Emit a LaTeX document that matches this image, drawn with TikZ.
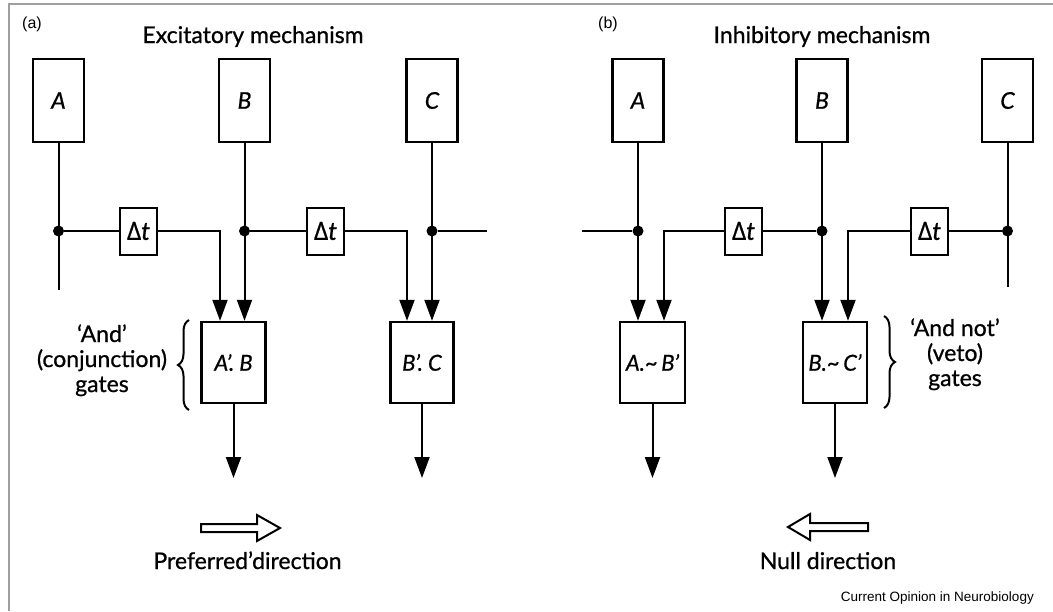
\documentclass[tikz,border=0pt]{standalone}
\usepackage{fontspec}
\setmainfont{Lato}[FakeBold=0.8]
\newfontfamily\credfont{Liberation Sans}
\newfontfamily\grkfont{Open Sans}[FakeBold=0.8]
\usetikzlibrary{arrows.meta,decorations.pathreplacing}
\begin{document}
\begin{tikzpicture}[x=1pt,y=-1pt,
  cell/.style={draw,line width=2.4pt,minimum width=51pt,minimum height=83pt,inner sep=0pt,font=\fontsize{23}{23}\selectfont\itshape},
  dly/.style={draw,line width=2pt,minimum width=37pt,minimum height=47pt,inner sep=0pt,font=\fontsize{25}{25}\selectfont},
  gate/.style={draw,line width=2.4pt,minimum width=64pt,minimum height=81pt,inner sep=0pt,font=\fontsize{22}{22}\selectfont\itshape},
  wire/.style={line width=2pt},
  arr/.style={wire,-{Triangle[length=21pt,width=15pt]}},
  jdot/.style={circle,fill,inner sep=0pt,minimum size=11pt},
  lbl/.style={font=\fontsize{23}{23}\selectfont,inner sep=0pt,anchor=base},
  tag/.style={font=\credfont\fontsize{16}{16}\selectfont,inner sep=0pt},
  hollow/.style={draw,line width=2pt,fill=white,line join=miter},
  brc/.style={decorate,decoration={brace,amplitude=11pt},line width=2pt}]
\useasboundingbox (0,0) rectangle (1053,611);
% frame
\draw[gray!75,line width=1.5pt] (9,611) -- (9,4) -- (1053,4);

% ---------------- panel (a)
\node[tag] (ta) at (32,24) {(a)};
\node[lbl] (tia) at (253,43) {Excitatory mechanism};
\node[cell] (A) at (58.5,100.5) {A};
\node[cell] (B) at (244.5,100.5) {B};
\node[cell] (C) at (432,100.5) {C};
\node[jdot] (dA) at (58.5,231) {};
\node[jdot] (dB) at (244.5,231) {};
\node[jdot] (dC) at (432,231) {};
\node[dly] (D1) at (138.5,231) {{\grkfont Δ}\textit{t}};
\node[dly] (D2) at (325.5,231) {{\grkfont Δ}\textit{t}};
\node[gate] (G1) at (233.5,362.5) {A’. B};
\node[gate,minimum width=63pt] (G2) at (422,362.5) {B’. C};
\coordinate (aEnd) at (58.5,290);
\coordinate (c1) at (220,231);
\coordinate (c2) at (407,231);
\coordinate (cEnd) at (487,231);
\coordinate (o1) at (233.5,478);
\coordinate (o2) at (422,478);

\draw[wire] (A.south) -- (aEnd);
\draw[wire] (dA) -- (D1.west);
\draw[arr] (D1.east) -- (c1) -- (c1 |- G1.north);
\draw[arr] (B.south) -- (B.south |- G1.north);
\draw[wire] (dB) -- (D2.west);
\draw[arr] (D2.east) -- (c2) -- (c2 |- G2.north);
\draw[arr] (C.south) -- (C.south |- G2.north);
\draw[wire] (dC) -- (cEnd);
\draw[arr] (G1.south) -- (o1);
\draw[arr] (G2.south) -- (o2);

\draw[brc] (189,410) -- (189,320);
\node[lbl] (s1) at (102,342) {‘And’};
\node[lbl] (s2) at (102,367) {(conjunction)};
\node[lbl] (s3) at (102,392) {gates};

\draw[hollow] (201,524) -- (257,524) -- (257,515) -- (280,528) -- (257,541) -- (257,532) -- (201,532) -- cycle;
\node[lbl] (pd) at (247.5,569) {Preferred’direction};

% ---------------- panel (b)
\node[tag] (tb) at (608,24) {(b)};
\node[lbl] (tib) at (822,43) {Inhibitory mechanism};
\node[cell] (A2) at (638,100.5) {A};
\node[cell] (B2) at (822,100.5) {B};
\node[cell] (C2) at (1007.5,100.5) {C};
\node[jdot] (eA) at (638,231) {};
\node[jdot] (eB) at (822,231) {};
\node[jdot] (eC) at (1007.5,231) {};
\node[dly] (D3) at (743.5,231) {{\grkfont Δ}\textit{t}};
\node[dly] (D4) at (929.5,231) {{\grkfont Δ}\textit{t}};
\node[gate,minimum width=65pt] (G3) at (652.5,362.5) {A.\textasciitilde\,B’};
\node[gate] (G4) at (835,362.5) {B.\textasciitilde\,C’};
\coordinate (bStart) at (582,231);
\coordinate (c3) at (664,231);
\coordinate (c4) at (848,231);
\coordinate (c2End) at (1007.5,287);
\coordinate (o3) at (652.5,478);
\coordinate (o4) at (835,478);

\draw[wire] (bStart) -- (eA);
\draw[arr] (A2.south) -- (A2.south |- G3.north);
\draw[arr] (D3.west) -- (c3) -- (c3 |- G3.north);
\draw[wire] (D3.east) -- (eB);
\draw[arr] (B2.south) -- (B2.south |- G4.north);
\draw[arr] (D4.west) -- (c4) -- (c4 |- G4.north);
\draw[wire] (D4.east) -- (eC);
\draw[wire] (C2.south) -- (c2End);
\draw[arr] (G3.south) -- (o3);
\draw[arr] (G4.south) -- (o4);

\draw[brc] (884,316) -- (884,408);
\node[lbl] (v1) at (955,336) {‘And not’};
\node[lbl] (v2) at (955,361) {(veto)};
\node[lbl] (v3) at (955,386) {gates};

\draw[hollow] (868,523) -- (810,523) -- (810,514) -- (788,527) -- (810,540) -- (810,531) -- (868,531) -- cycle;
\node[lbl] (nd) at (828,569) {Null direction};

\node[font=\credfont\fontsize{13.5}{13.5}\selectfont,inner sep=0pt,anchor=east] (cr) at (1034,598) {Current Opinion in Neurobiology};
\end{tikzpicture}
\end{document}
